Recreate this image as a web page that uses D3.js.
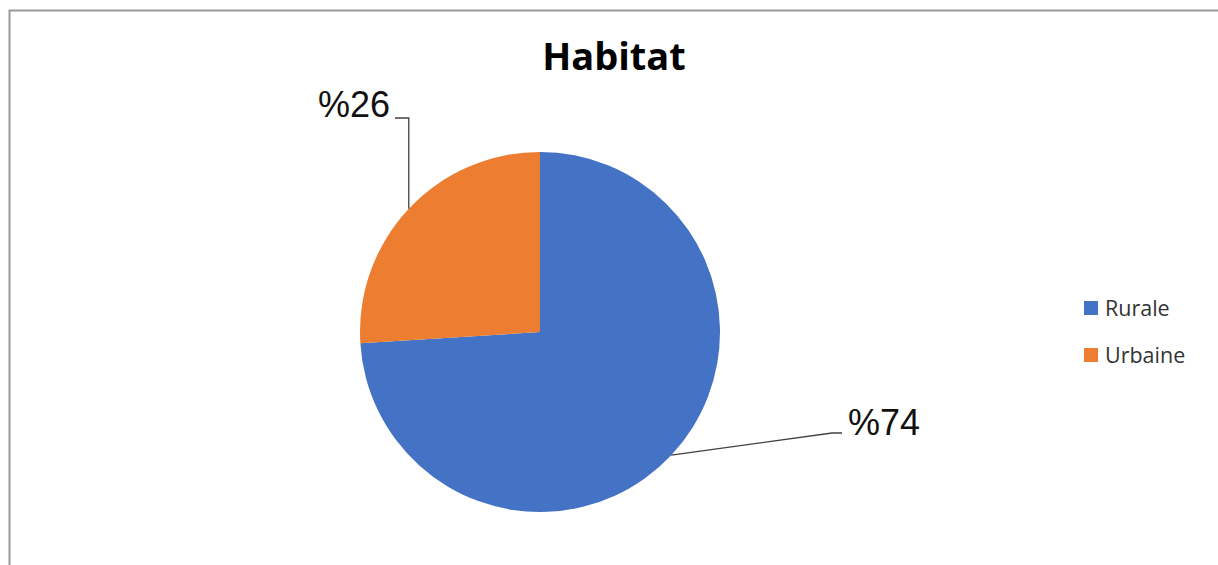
<!DOCTYPE html>
<html>
<head>
<meta charset="utf-8">
<script src="https://cdn.jsdelivr.net/npm/d3@7"></script>
<style>
    body { margin: 0; background: #fff; }
    svg { display: block; }
</style>
</head>
<body>
<div id="chart"></div>
<script>
// data
const categories = ['Rurale', 'Urbaine'];
const values = [74, 26];
const labels = ['%74', '%26'];
const colors = ['#4472C4', '#ED7D31'];

const width = 1218, height = 565;
const cx = 540, cy = 332, radius = 180;

const svg = d3.select('#chart').append('svg')
    .attr('width', width)
    .attr('height', height);

// chart frame
svg.append('path')
    .attr('d', `M9.5,${height} V10.5 H${width}`)
    .attr('fill', 'none')
    .attr('stroke', '#999')
    .attr('stroke-width', 2);

svg.append('text')
    .attr('x', 614)
    .attr('y', 70)
    .attr('text-anchor', 'middle')
    .attr('font-family', '"Open Sans", sans-serif')
    .attr('font-weight', 'bold')
    .attr('font-size', 38)
    .attr('fill', '#000')
    .text('Habitat');

const data = categories.map((c, i) => ({name: c, value: values[i], label: labels[i], color: colors[i]}));

const pie = d3.pie().sort(null).value(d => d.value);
const arc = d3.arc().innerRadius(0).outerRadius(radius);
const arcs = pie(data);

const g = svg.append('g').attr('transform', `translate(${cx},${cy})`);

g.selectAll('path.slice')
    .data(arcs)
    .join('path')
    .attr('class', 'slice')
    .attr('d', arc)
    .attr('fill', d => d.data.color);

// leader lines + labels (label position per slice)
const labelPos = {
    Rurale: {bend: [292, 101], end: [302, 101], text: [308, 103], anchor: 'start'},
    Urbaine: {bend: null, end: [-145, -214], text: [-150, -215], anchor: 'end'}
};

arcs.forEach(a => {
    const mid = (a.startAngle + a.endAngle) / 2;
    const p0 = [Math.sin(mid) * radius, -Math.cos(mid) * radius];
    const lp = labelPos[a.data.name];
    let pts;
    if (lp.bend) {
        pts = [p0, lp.bend, lp.end];
    } else {
        pts = [p0, [p0[0], lp.end[1]], lp.end];
    }
    g.append('path')
        .attr('d', d3.line()(pts))
        .attr('fill', 'none')
        .attr('stroke', '#404040')
        .attr('stroke-width', 1.3);
    g.append('text')
        .attr('x', lp.text[0])
        .attr('y', lp.text[1])
        .attr('text-anchor', lp.anchor)
        .attr('font-family', '"Liberation Sans", Arial, sans-serif')
        .attr('font-size', 36)
        .attr('fill', '#111')
        .text(a.data.label);
});

// legend
const legend = svg.append('g').attr('transform', 'translate(1084,301)');
const item = legend.selectAll('g')
    .data(data)
    .join('g')
    .attr('transform', (d, i) => `translate(0,${i * 47})`);
item.append('rect')
    .attr('width', 14)
    .attr('height', 14)
    .attr('fill', d => d.color);
item.append('text')
    .attr('x', 21)
    .attr('y', 15)
    .attr('font-family', '"Open Sans", sans-serif')
    .attr('font-size', 21.5)
    .attr('fill', '#333')
    .text(d => d.name);
</script>
</body>
</html>
